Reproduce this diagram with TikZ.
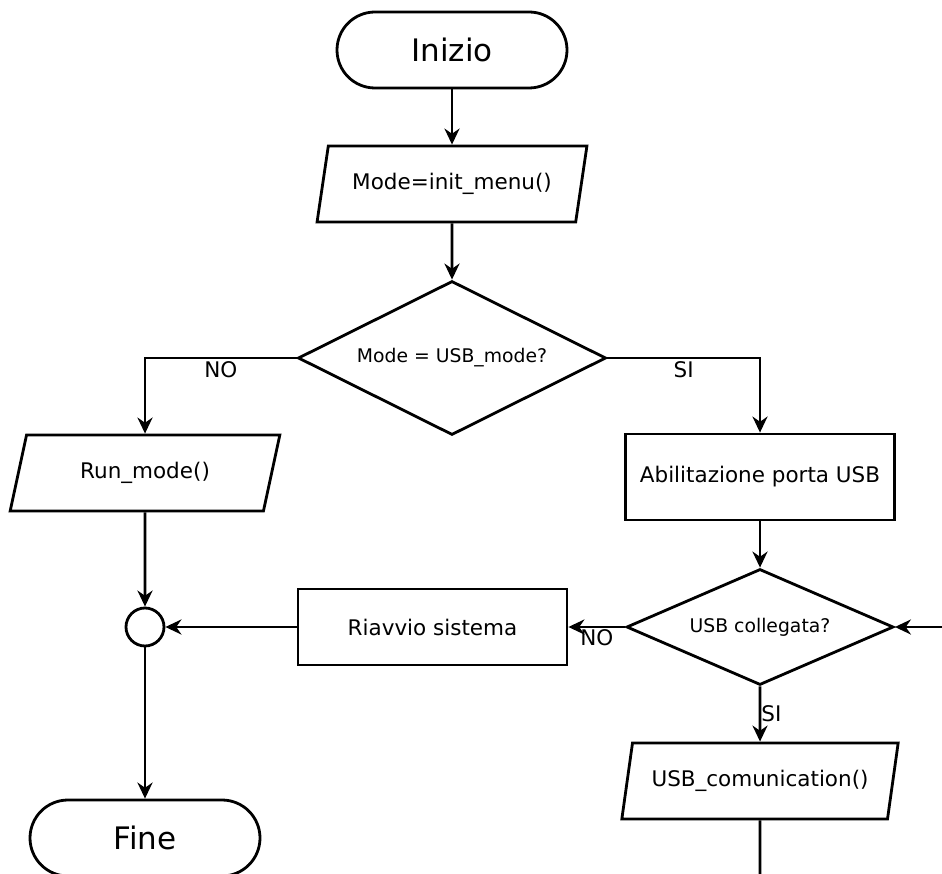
\documentclass[tikz,border=0pt]{standalone}
\usepackage{fontspec}
\setmainfont{DejaVu Sans}
\usetikzlibrary{shapes.geometric, arrows.meta, positioning}

\begin{document}
\begin{tikzpicture}[x=1pt, y=-1pt, line width=2.8pt,
        arrow/.style={-{Stealth[length=16pt, width=15pt]}},
        base/.style={draw, font=\fontsize{21.5}{26}\selectfont, inner sep=2pt},
        term/.style={base, rectangle, rounded corners=38pt, minimum width=230pt, minimum height=76pt, font=\fontsize{31}{36}\selectfont},
        io/.style={base, trapezium, trapezium left angle=70, trapezium right angle=110, trapezium stretches=true, minimum width=270pt, minimum height=76pt},
        process/.style={base, rectangle, minimum width=269pt},
        decision/.style={base, diamond, inner sep=0pt, font=\fontsize{18.8}{22}\selectfont},
        junction/.style={draw, circle, minimum size=38pt, inner sep=0pt},
        lbl/.style={font=\fontsize{21.5}{26}\selectfont, inner sep=2pt}]
        \useasboundingbox (0,0) rectangle (942,874);

        % Start and menu
        \node[term] (start) at (452,50) {Inizio};
        \node[io] (menu) at (452,184) {Mode=init\_menu()};
        \node[decision, aspect=2, minimum width=308pt, minimum height=154pt] (isusb) at (452,358) {Mode = USB\_mode?};

        % Left branch
        \node[io] (run) at (145,473) {Run\_mode()};
        \node[junction] (join) at (145,627) {};
        \node[term] (fine) at (145,838) {Fine};

        % Right branch (USB)
        \node[process, minimum height=86pt] (usb) at (760,477) {Abilitazione porta USB};
        \node[decision, aspect=2.3, minimum width=267pt, minimum height=116pt] (connected) at (760,627) {USB collegata?};
        \node[process, minimum height=76pt] (reboot) at (432.5,627) {Riavvio sistema};
        \node[io, minimum width=277pt] (comm) at (760,781) {USB\_comunication()};

        % Loose ends at the border
        \coordinate (inlet) at (942,627);
        \coordinate (outlet) at (760,874);

        % Connections
        \draw[arrow] (start) -- (menu);
        \draw[arrow] (menu) -- (isusb);
        \draw[arrow] (isusb.west) -| node[lbl, pos=0.25, below] {NO} (run.north);
        \draw[arrow] (isusb.east) -| node[lbl, pos=0.25, below] {SI} (usb.north);
        \draw[arrow] (run) -- (join);
        \draw[arrow] (usb) -- (connected);
        \draw[arrow] (inlet) -- (connected.east);
        \draw[arrow] (connected.west) -- node[lbl, below, inner sep=1pt] {NO} (reboot.east);
        \draw[arrow] (connected.south) -- node[lbl, right, inner sep=0pt] {SI} (comm.north);
        \draw[arrow] (reboot) -- (join);
        \draw[arrow] (join) -- (fine);
        \draw (comm.south) -- (outlet);
    \end{tikzpicture}
\end{document}
